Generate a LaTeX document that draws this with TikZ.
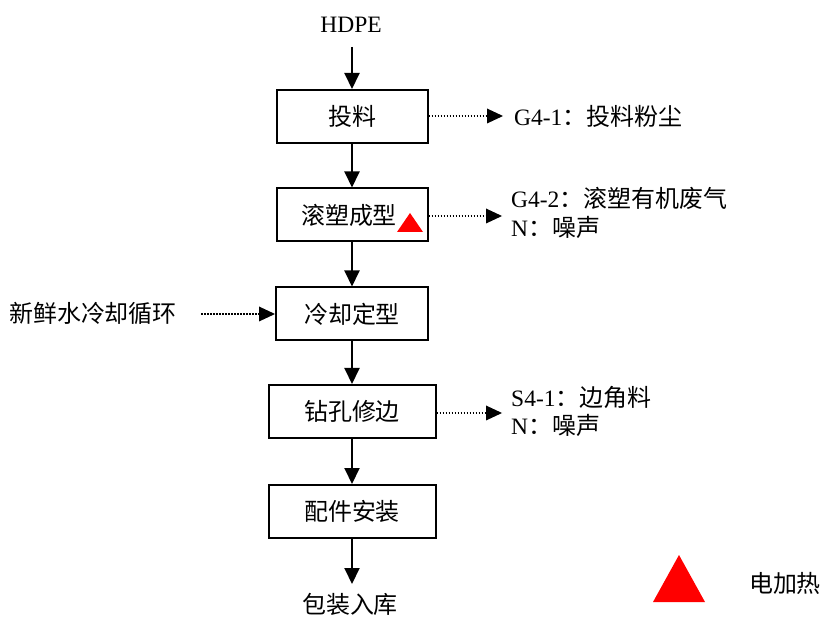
\documentclass[tikz,border=0pt]{standalone}
\usepackage{fontspec}
\setmainfont{Liberation Serif}
\newfontfamily\cjk{Noto Sans CJK SC}[Scale=1.02]
\usetikzlibrary{arrows.meta}
\newcommand{\zh}[1]{{\cjk #1}}
\begin{document}
\begin{tikzpicture}[x=1pt,y=-1pt,
  every node/.style={font=\fontsize{23.5}{28}\selectfont, inner sep=0pt},
  procbox/.style={draw, line width=2pt, minimum height=53pt, fill=white},
  flow/.style={line width=2pt, -{Triangle[width=15pt,length=16pt]}},
  side/.style={line width=1.6pt, dash pattern=on 1.6pt off 1.4pt, -{Triangle[width=15pt,length=16pt,line width=0pt]}},
  heat/.style={fill=red, draw=none},
  lbl/.style={anchor=west}]
\useasboundingbox (0,0) rectangle (822,617);

% main boxes
\node[procbox, minimum width=151pt] (b1) at (352,116.5) {\zh{投料}};
\node[procbox, minimum width=151pt] (b2) at (352,215) {\zh{滚塑成型}\hspace*{6pt}};
\node[procbox, minimum width=152pt] (b3) at (352,314) {\zh{冷却定型}};
\node[procbox, minimum width=167pt] (b4) at (352,411.5) {\zh{钻孔修边}};
\node[procbox, minimum width=167pt] (b5) at (352,511.5) {\zh{配件安装}};

% top and bottom
\node (hdpe) at (351,25) {HDPE};
\coordinate (top) at (352,47);
\coordinate (bot) at (352,584);
\node (out) at (350,604) {\zh{包装入库}};

\draw[flow] (top) -- (b1.north);
\draw[flow] (b1.south) -- (b2.north);
\draw[flow] (b2.south) -- (b3.north);
\draw[flow] (b3.south) -- (b4.north);
\draw[flow] (b4.south) -- (b5.north);
\draw[flow] (b5.south) -- (bot);

% side outputs
\coordinate (e1) at (503,116);
\coordinate (e2) at (502,216);
\coordinate (e4) at (502,413);
\draw[side] (b1.east |- e1) -- (e1);
\draw[side] (b2.east |- e2) -- (e2);
\draw[side] (b4.east |- e4) -- (e4);

\node[lbl] (g1) at (514,116) {G4-1\zh{：投料粉尘}};
\node[lbl] (g2) at (511,198) {G4-2\zh{：滚塑有机废气}};
\node[lbl] (n2) at (511,227) {N\zh{：噪声}};
\node[lbl] (s1) at (511,397) {S4-1\zh{：边角料}};
\node[lbl] (n4) at (511,425) {N\zh{：噪声}};

% water input
\node (water) at (93,313) {\zh{新鲜水冷却循环}};
\coordinate (w0) at (201,314);
\draw[side] (w0) -- (b3.west);

% heating triangle in box 2
\fill[heat] (410,213) -- (423,232) -- (397,232) -- cycle;

% legend
\fill[heat] (679,555) -- (705,602) -- (653,602) -- cycle;
\node (leg) at (785,583) {\zh{电加热}};
\end{tikzpicture}
\end{document}
